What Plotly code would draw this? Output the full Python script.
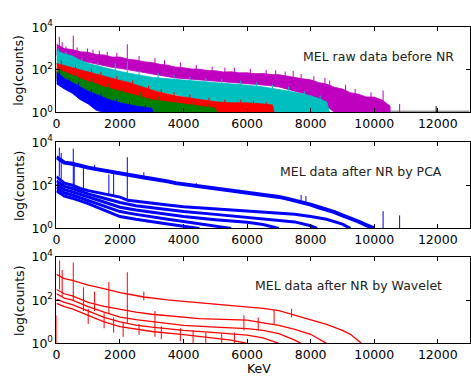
import plotly.graph_objects as go

# ---------------- data (log10 of counts) ----------------
# Panel 1: raw spectra, drawn as noisy bands (upper / lower envelope)
MAG_E = [0, 250, 500, 750, 1000, 1250, 1500, 1750, 2000, 2250, 2500, 2750, 3000, 3250, 3500, 3750,
         4000, 4250, 4500, 4750, 5000, 5250, 5500, 5750, 6000, 6250, 6500, 6750, 7000, 7250, 7500,
         7750, 8000, 8250, 8500, 8750, 9000, 9250, 9500, 9750, 10000, 10250, 10500]
MAG_HI = [3.2, 3.0, 2.95, 2.85, 2.82, 2.72, 2.7, 2.6, 2.6, 2.5, 2.46, 2.38, 2.34, 2.26, 2.22, 2.13,
          2.1, 2.04, 2.03, 1.97, 1.96, 1.9, 1.91, 1.86, 1.86, 1.82, 1.83, 1.78, 1.77, 1.7, 1.66,
          1.58, 1.53, 1.4, 1.33, 1.18, 1.1, 0.93, 0.86, 0.73, 0.72, 0.58, 0.3]
MAG_LO = [2.7, 2.55, 2.5, 2.4, 2.35, 2.3, 2.2, 2.12, 2.07, 2.0, 1.95, 1.88, 1.8, 1.75, 1.68, 1.62,
          1.58, 1.55, 1.52, 1.48, 1.45, 1.42, 1.4, 1.38, 1.35, 1.32, 1.3, 1.25, 1.2, 1.1, 1.0,
          0.9, 0.75, 0.55, 0.3, 0, 0, 0, 0, 0, 0, 0, 0]

CYA_E = [0, 250, 500, 750, 1000, 1250, 1500, 1750, 2000, 2250, 2500, 2750, 3000, 3500, 4000, 4500,
         5000, 5500, 6000, 6500, 7000, 7500, 8000, 8250, 8500, 8600]
CYA_HI = [2.9, 2.75, 2.65, 2.45, 2.3, 2.2, 2.1, 2.0, 1.92, 1.85, 1.78, 1.72, 1.65, 1.58, 1.52, 1.45,
          1.42, 1.36, 1.28, 1.2, 1.08, 0.95, 0.78, 0.66, 0.5, 0]
CYA_LO = [2.3, 2.15, 2.0, 1.85, 1.7, 1.6, 1.5, 1.42, 1.35, 1.28, 1.2, 1.12, 1.05, 0.9, 0.75, 0.5,
          0.3, 0, 0, 0, 0, 0, 0, 0, 0, 0]

RED_E = [0, 250, 500, 750, 1000, 1250, 1500, 1750, 2000, 2250, 2500, 2750, 3000, 3250, 3500, 3750,
         4000, 4500, 5000, 5500, 6000, 6500, 6800, 6850]
RED_HI = [2.3, 2.2, 2.1, 2.0, 1.88, 1.8, 1.7, 1.6, 1.5, 1.42, 1.3, 1.15, 1.05, 0.95, 0.85, 0.78,
          0.72, 0.6, 0.5, 0.45, 0.45, 0.4, 0.35, 0]
RED_LO = [1.6, 1.45, 1.3, 1.2, 1.1, 0.95, 0.8, 0.65, 0.5, 0.35, 0.2, 0.1, 0, 0, 0, 0,
          0, 0, 0, 0, 0, 0, 0, 0]

GRN_E = [0, 250, 500, 750, 1000, 1250, 1500, 1750, 2000, 2250, 2500, 2750, 3000, 3500, 4000, 4500,
         5000, 5050]
GRN_HI = [2.05, 1.9, 1.75, 1.6, 1.45, 1.35, 1.2, 1.1, 1.0, 0.9, 0.8, 0.7, 0.6, 0.5, 0.4, 0.3, 0.2, 0]
GRN_LO = [1.5, 1.3, 1.1, 0.9, 0.75, 0.6, 0.45, 0.3, 0.2, 0.1, 0, 0, 0, 0, 0, 0, 0, 0]

BLU_E = [0, 250, 500, 750, 1000, 1250, 1500, 1750, 2000, 2500, 3000, 3050]
BLU_HI = [1.9, 1.6, 1.4, 1.2, 1.0, 0.85, 0.7, 0.55, 0.45, 0.3, 0.2, 0]
BLU_LO = [1.35, 1.1, 0.9, 0.6, 0.4, 0.1, 0, 0, 0, 0, 0, 0]

# faint residual counts of the remaining spectra at the far right of panel 1
GRAY_E = [10450, 13000]
GRAY_V = [0.03, 0.03]
BLK_SPK_E = [11950]
BLK_SPK_LO = [0]
BLK_SPK_HI = [0.3]

# spikes / noise grass (energy, base, top) for panel 1
MAG_SPK_E = [90, 180, 300, 530, 650, 980, 1150, 1350, 1600, 1900, 2230, 2600, 3100, 3400, 3900, 4400,
             4900, 5300, 5600, 6100, 6600, 6900, 7200, 7450, 7700, 8100, 8450, 8600, 9100, 9400, 9900,
             10280, 10800]
MAG_SPK_LO = [2.8, 2.7, 2.7, 2.6, 2.6, 2.4, 2.4, 2.45, 2.3, 2.35, 2.1, 2.2, 2.1, 2.0, 1.9, 1.8,
              1.75, 1.7, 1.7, 1.65, 1.6, 1.55, 1.5, 1.5, 1.4, 1.3, 1.1, 1.1, 0.9, 0.7, 0.5,
              0, 0]
MAG_SPK_HI = [3.55, 3.3, 3.1, 3.6, 3.05, 3.0, 2.95, 2.9, 2.85, 2.8, 3.2, 2.65, 2.55, 2.45, 2.35, 2.22,
              2.15, 2.1, 2.1, 2.05, 2.0, 1.98, 1.92, 1.95, 1.8, 1.7, 1.62, 1.5, 1.3, 1.1, 0.95,
              1.03, 0.4]
CYA_SPK_E = [60, 300, 540, 800, 1300, 1850, 2230, 2600, 3200, 3700, 4200, 4700, 5200, 5800, 6300,
             6800, 7300, 7800, 8300]
CYA_SPK_LO = [2.3, 2.3, 2.0, 2.0, 1.8, 1.4, 1.3, 1.4, 1.3, 1.2, 1.1, 1.05, 1.0, 0.95, 0.9,
              0.8, 0.7, 0.5, 0.3]
CYA_SPK_HI = [3.0, 2.85, 2.65, 2.55, 2.35, 2.3, 2.4, 1.95, 1.85, 1.75, 1.68, 1.62, 1.58, 1.5, 1.42,
              1.3, 1.2, 1.0, 0.8]
RED_SPK_E = [150, 600, 1100, 1400, 1900, 2400, 2900, 3300, 3700, 4200, 4800, 5300, 5800, 6200, 6600]
RED_SPK_LO = [1.8, 1.6, 1.4, 1.3, 1.1, 0.9, 0.6, 0.4, 0.3, 0.2, 0, 0, 0, 0, 0]
RED_SPK_HI = [2.45, 2.25, 2.05, 1.9, 1.7, 1.5, 1.25, 1.1, 0.95, 0.85, 0.7, 0.6, 0.6, 0.55, 0.5]
GRN_SPK_E = [150, 650, 1150, 1650, 2100, 2650, 3200, 3800, 4300, 4800]
GRN_SPK_LO = [1.6, 1.3, 1.0, 0.8, 0.6, 0.4, 0.2, 0.1, 0, 0]
GRN_SPK_HI = [2.15, 1.85, 1.6, 1.35, 1.15, 0.95, 0.75, 0.62, 0.5, 0.4]
BLU_SPK_E = [100, 400, 700, 1100, 1400, 1900, 2300, 2800]
BLU_SPK_LO = [1.4, 1.0, 0.8, 0.5, 0.3, 0.1, 0, 0]
BLU_SPK_HI = [2.0, 1.6, 1.4, 1.1, 0.9, 0.65, 0.5, 0.35]

# Panel 2: spectra after noise reduction by PCA (blue)
PCA_A_E = [0, 250, 500, 750, 1000, 1250, 1500, 1750, 2000, 2250, 2500, 2750, 3000, 3250, 3500, 3750,
           4000, 4250, 4500, 4750, 5000, 5250, 5500, 5750, 6000, 6250, 6500, 6750, 7000, 7250, 7500,
           7750, 8000, 8250, 8500, 8750, 9000, 9250, 9500, 9750, 10000]
PCA_A = [3.3, 3.05, 3.0, 2.9, 2.82, 2.75, 2.68, 2.6, 2.55, 2.48, 2.42, 2.36, 2.3, 2.25, 2.18, 2.1,
         2.05, 2.0, 1.95, 1.9, 1.85, 1.8, 1.76, 1.72, 1.68, 1.63, 1.58, 1.52, 1.46, 1.38, 1.3,
         1.2, 1.1, 0.98, 0.88, 0.75, 0.6, 0.48, 0.32, 0.15, 0]
PCA_B_E = [0, 250, 500, 750, 1000, 1250, 1500, 1750, 2000, 2250, 2500, 2750, 3000, 3500, 4000, 4500,
           5000, 5500, 6000, 6500, 7000, 7500, 8000, 8500, 9000, 9250]
PCA_B = [2.4, 2.1, 2.0, 1.85, 1.75, 1.68, 1.6, 1.52, 1.45, 1.3, 1.25, 1.2, 1.15, 1.08, 1.0, 0.95,
         0.9, 0.85, 0.8, 0.75, 0.72, 0.66, 0.55, 0.42, 0.2, 0]
PCA_C_E = [0, 250, 500, 1000, 1500, 2000, 2500, 3000, 3500, 4000, 5000, 6000, 7000, 7500, 8000, 8200]
PCA_C = [2.2, 1.95, 1.85, 1.6, 1.4, 1.2, 1.05, 0.95, 0.85, 0.78, 0.65, 0.5, 0.38, 0.3, 0.12, 0]
PCA_D_E = [0, 250, 500, 1000, 1500, 2000, 2500, 3000, 3500, 4000, 5000, 6000, 6500, 7000]
PCA_D = [2.05, 1.8, 1.7, 1.45, 1.2, 0.98, 0.85, 0.75, 0.65, 0.55, 0.4, 0.28, 0.18, 0]
PCA_E_E = [0, 250, 500, 1000, 1500, 2000, 2500, 3000, 3500, 4000, 4500, 5000, 5500]
PCA_E = [1.9, 1.65, 1.55, 1.3, 1.05, 0.78, 0.65, 0.52, 0.42, 0.32, 0.22, 0.12, 0]
PCA_F_E = [0, 250, 500, 1000, 1500, 2000, 2500, 3000, 3500, 4000, 4500]
PCA_F = [1.75, 1.5, 1.4, 1.15, 0.85, 0.55, 0.42, 0.3, 0.2, 0.1, 0]

PCA_SPK_E = [90, 150, 530, 560, 850, 1200, 1650, 1800, 2230, 2750, 4400, 7700, 7850, 10280, 10800]
PCA_SPK_LO = [2.4, 2.3, 2.0, 1.8, 1.8, 2.7, 1.55, 1.5, 1.3, 2.35, 1.9, 1.2, 1.1, 0, 0]
PCA_SPK_HI = [3.75, 3.5, 3.7, 3.0, 2.8, 2.95, 2.5, 2.6, 3.3, 2.6, 2.1, 1.55, 1.5, 0.8, 0.6]

# Panel 3: spectra after noise reduction by wavelet (red)
WAV_A_E = [0, 250, 500, 750, 1000, 1250, 1500, 1750, 2000, 2250, 2500, 2750, 3000, 3500, 4000, 4500,
           5000, 5500, 6000, 6500, 7000, 7500, 8000, 8500, 9000, 9250, 9500, 9600]
WAV_A = [3.2, 3.0, 2.92, 2.8, 2.7, 2.62, 2.55, 2.45, 2.35, 2.3, 2.22, 2.15, 2.1, 2.02, 1.95, 1.88,
         1.82, 1.76, 1.7, 1.62, 1.52, 1.3, 1.08, 0.88, 0.6, 0.42, 0.12, 0]
WAV_B_E = [0, 250, 500, 1000, 1500, 2000, 2500, 3000, 3500, 4000, 4500, 5000, 5500, 6000, 6500, 7000,
           7500, 8000, 8500]
WAV_B = [2.5, 2.3, 2.2, 1.9, 1.72, 1.58, 1.45, 1.35, 1.28, 1.2, 1.15, 1.12, 1.1, 1.08, 0.95, 0.83,
         0.65, 0.42, 0]
WAV_C_E = [0, 250, 500, 1000, 1500, 2000, 2500, 3000, 3500, 4000, 5000, 6000, 6500, 7000, 7500, 7700]
WAV_C = [2.3, 2.1, 2.0, 1.7, 1.45, 1.22, 1.1, 1.0, 0.9, 0.83, 0.75, 0.68, 0.6, 0.45, 0.15, 0]
WAV_D_E = [0, 250, 500, 1000, 1500, 2000, 2500, 3000, 4000, 5000, 6000, 6500, 7000]
WAV_D = [2.05, 1.9, 1.8, 1.5, 1.2, 1.0, 0.85, 0.75, 0.6, 0.5, 0.38, 0.25, 0]
WAV_E_E = [0, 250, 500, 1000, 1500, 2000, 2500, 3000, 4000, 5000, 5500, 6000]
WAV_E = [1.85, 1.7, 1.6, 1.3, 1.0, 0.78, 0.65, 0.55, 0.4, 0.25, 0.15, 0]

WAV_SPK_E = [5, 100, 180, 530, 850, 1000, 1200, 1500, 1650, 1800, 2100, 2230, 2600, 2750, 3100, 3300,
             3900, 4300, 4700, 5200, 5600, 5900, 6350, 6850, 7400]
WAV_SPK_LO = [0, 2.5, 2.2, 2.0, 1.5, 0.9, 1.5, 0.7, 1.4, 0.5, 0.3, 0.9, 0.4, 2.0, 0.3, 0.2,
              0.1, 0, 0, 0, 0, 0.6, 0.6, 0.9, 1.2]
WAV_SPK_HI = [1.3, 3.85, 3.4, 3.75, 2.6, 1.6, 2.4, 1.4, 2.85, 1.2, 1.0, 3.3, 0.9, 2.4, 1.5, 0.8,
              0.7, 0.6, 0.5, 0.45, 0.5, 1.3, 1.2, 1.55, 1.6]

X_TICKS = [0, 2000, 4000, 6000, 8000, 10000, 12000]
X_TICKTEXT = ["0", "2000", "4000", "6000", "8000", "10000", "12000"]
Y_TICKS = [1, 100, 10000]
Y_TICKTEXT = ["10<sup>0</sup>", "10<sup>2</sup>", "10<sup>4</sup>"]
TITLES = ["MEL raw data before NR", "MEL data after NR by PCA", "MEL data after NR by Wavelet"]

MAGENTA, CYAN, RED, GREEN, BLUE = "#BF00BF", "#00BFBF", "#FF0000", "#008000", "#0000FF"
FONT = "DejaVu Sans, Arial, sans-serif"


def lin(v):
    return [10 ** a for a in v]


fig = go.Figure()


def band(E, hi, lo, color, ax):
    xs = E + E[::-1]
    ys = lin(hi + lo[::-1])
    fig.add_trace(go.Scatter(x=xs, y=ys, mode="lines", fill="toself", fillcolor=color,
                             line=dict(color=color, width=0.8), xaxis="x" + ax, yaxis="y" + ax,
                             hoverinfo="skip", showlegend=False))


def spikes(E, lo, hi, color, ax, w=1):
    xs, ys = [], []
    for e, a, b in zip(E, lo, hi):
        xs += [e, e, None]
        ys += [10 ** a, 10 ** b, None]
    fig.add_trace(go.Scatter(x=xs, y=ys, mode="lines", line=dict(color=color, width=w),
                             xaxis="x" + ax, yaxis="y" + ax, hoverinfo="skip", showlegend=False))


def line(E, v, color, ax, w):
    fig.add_trace(go.Scatter(x=E, y=lin(v), mode="lines", line=dict(color=color, width=w),
                             xaxis="x" + ax, yaxis="y" + ax, hoverinfo="skip", showlegend=False))


# panel 1
line(GRAY_E, GRAY_V, "#999999", "", 2.5)
spikes(BLK_SPK_E, BLK_SPK_LO, BLK_SPK_HI, "black", "")
band(MAG_E, MAG_HI, MAG_LO, MAGENTA, "")
spikes(MAG_SPK_E, MAG_SPK_LO, MAG_SPK_HI, MAGENTA, "")
band(CYA_E, CYA_HI, CYA_LO, CYAN, "")
spikes(CYA_SPK_E, CYA_SPK_LO, CYA_SPK_HI, CYAN, "")
band(RED_E, RED_HI, RED_LO, RED, "")
spikes(RED_SPK_E, RED_SPK_LO, RED_SPK_HI, RED, "")
band(GRN_E, GRN_HI, GRN_LO, GREEN, "")
spikes(GRN_SPK_E, GRN_SPK_LO, GRN_SPK_HI, GREEN, "")
band(BLU_E, BLU_HI, BLU_LO, BLUE, "")
spikes(BLU_SPK_E, BLU_SPK_LO, BLU_SPK_HI, BLUE, "")

# panel 2
for E, v, w in [(PCA_A_E, PCA_A, 4), (PCA_B_E, PCA_B, 3), (PCA_C_E, PCA_C, 3),
                (PCA_D_E, PCA_D, 3), (PCA_E_E, PCA_E, 3), (PCA_F_E, PCA_F, 3)]:
    line(E, v, BLUE, "2", w)
spikes(PCA_SPK_E, PCA_SPK_LO, PCA_SPK_HI, BLUE, "2")

# panel 3
for E, v in [(WAV_A_E, WAV_A), (WAV_B_E, WAV_B), (WAV_C_E, WAV_C), (WAV_D_E, WAV_D), (WAV_E_E, WAV_E)]:
    line(E, v, RED, "3", 1.3)
spikes(WAV_SPK_E, WAV_SPK_LO, WAV_SPK_HI, RED, "3")

W, H = 471, 381
x0 = 53 / W
panels = [(19, 108), (139, 229), (259, 349)]
layout = dict(width=W, height=H, margin=dict(l=0, r=0, t=0, b=0),
              paper_bgcolor="white", plot_bgcolor="white", showlegend=False,
              font=dict(family=FONT, size=12.5, color="black"))
annotations = []
for i, (top, bot) in enumerate(panels):
    sfx = "" if i == 0 else str(i + 1)
    dom = [1 - bot / H, 1 - top / H]
    layout["xaxis" + sfx] = dict(domain=[x0, 0.999], range=[0, 13000], tickvals=X_TICKS,
                                 ticktext=X_TICKTEXT,
                                 ticks="inside", ticklen=4, tickcolor="black", showline=True,
                                 linecolor="black", linewidth=1, mirror="allticks",
                                 showgrid=False, zeroline=False, anchor="y" + sfx,
                                 tickfont=dict(family=FONT, size=12.5, color="black"))
    layout["yaxis" + sfx] = dict(domain=dom, type="log", range=[0, 4], tickvals=Y_TICKS,
                                 ticktext=Y_TICKTEXT, ticks="inside", ticklen=4, tickcolor="black",
                                 showline=True, linecolor="black", linewidth=1, mirror="allticks",
                                 showgrid=False, zeroline=False, anchor="x" + sfx,
                                 tickfont=dict(family=FONT, size=12.5, color="black"))
    annotations.append(dict(text="log(counts)", x=15 / W, y=(dom[0] + dom[1]) / 2, xref="paper",
                            yref="paper", textangle=-90, showarrow=False,
                            xanchor="center", yanchor="middle",
                            font=dict(family=FONT, size=12.5, color="black")))
title_pos = [(379, 50), (361, 170), (348, 289)]
for t, (cx, cy) in zip(TITLES, title_pos):
    annotations.append(dict(text=t, x=cx / W, y=1 - cy / H, xref="paper", yref="paper",
                            xanchor="center", yanchor="middle",
                            showarrow=False, font=dict(family=FONT, size=12.5, color="#222")))
annotations.append(dict(text="KeV", x=258 / W, y=1 - 375 / H, xref="paper", yref="paper",
                        xanchor="center", yanchor="middle",
                        showarrow=False, font=dict(family=FONT, size=12.5, color="black")))
layout["annotations"] = annotations
fig.update_layout(**layout)
fig.write_html("out.html")
